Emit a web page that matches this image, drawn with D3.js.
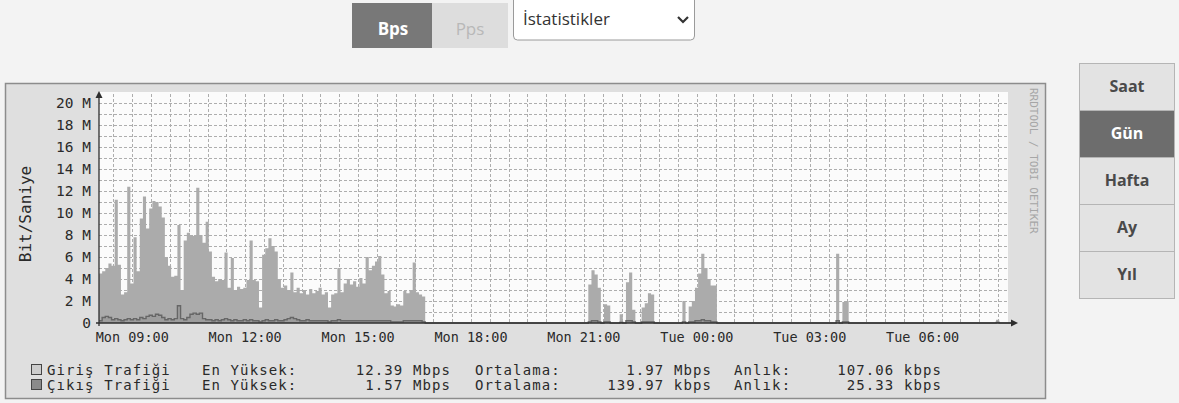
<!DOCTYPE html>
<html><head><meta charset="utf-8">
<script src="https://cdn.jsdelivr.net/npm/d3@7"></script>
<style>body{margin:0;background:#f3f3f3;} svg{display:block}</style>
</head><body>
<svg id="c" width="1179" height="403"></svg>
<script>
// ---------- data ----------
const startTime = new Date(2024, 0, 1, 8, 7);   // Mon 08:07
const endTime   = new Date(2024, 0, 2, 8, 16);  // Tue 08:16
const slotMinutes = 5;
// Giriş (in) traffic, Mbps, one value per 5-minute slot (rows = 1 hour)
const inTraffic = [
 4.5,4.7,5.0,5.4,5.2,11.2,5.3,2.6,2.8,12.39,3.6,7.8,
 4.7,9.5,11.5,8.6,10.4,11.1,11.0,10.6,9.6,6.0,5.2,4.2,
 4.3,8.9,3.0,7.5,8.2,8.0,7.9,12.3,8.0,7.3,9.2,6.5,
 4.2,3.8,4.0,3.9,6.4,3.2,5.9,3.0,3.3,3.1,3.2,3.9,
 7.5,3.9,3.8,1.4,6.2,6.8,7.7,7.0,6.5,4.0,3.2,3.4,
 3.0,4.6,2.8,3.2,2.7,3.0,2.6,3.1,2.7,2.9,3.2,2.6,
 2.8,1.4,2.6,2.7,5.0,2.8,3.6,4.0,3.5,3.8,3.3,4.1,
 3.6,6.0,4.8,5.2,5.6,6.1,4.4,2.7,2.9,1.6,1.5,1.7,
 1.6,2.9,2.7,3.0,5.5,2.8,2.6,2.4,0,0,0,0,
 0,0,0,0,0,0,0,0,0,0,0,0,
 0,0,0,0,0,0,0,0,0,0,0,0,
 0,0,0,0,0,0,0,0,0,0,0,0,
 0,0,0,0,0,0,0,0,0,0,0,0,
 3.5,4.8,4.4,3.2,0,1.7,1.6,0,0,0,0.8,0,
 3.7,4.6,1.2,0,0,1.4,1.8,2.7,2.6,0,0,0,
 0,0,0,0,0,0,2.0,0,1.5,2.0,3.2,4.5,
 6.3,5.0,4.0,3.4,3.4,0,0,0,0,0,0,0,
 0,0,0,0,0,0,0,0,0,0,0,0,
 0,0,0,0,0,0,0,0,0,0,0,0,
 0,0,0,0,0,0,0,6.3,0,1.9,2.0,0,
 0,0,0,0,0,0,0,0,0,0,0,0,
 0,0,0,0,0,0,0,0,0,0,0,0,
 0,0,0,0,0,0,0,0,0,0,0,0,
 0,0,0,0,0,0,0,0,0,0,0.3,0,
 0,0,0
];
// Çıkış (out) traffic, Mbps
const outTraffic = [
 0.2,0.5,0.6,0.5,0.3,0.4,0.3,0.2,0.3,0.4,0.3,0.4,
 0.3,0.5,0.4,0.6,0.7,0.6,0.8,0.7,0.5,0.3,0.4,0.3,
 0.4,1.57,0.4,0.3,0.5,0.8,0.9,0.8,0.9,0.4,0.3,0.3,
 0.2,0.3,0.2,0.3,0.4,0.3,0.2,0.3,0.2,0.2,0.3,0.2,
 0.3,0.2,0.2,0.1,0.2,0.3,0.2,0.2,0.3,0.2,0.2,0.3,
 0.4,0.5,0.4,0.3,0.2,0.2,0.3,0.2,0.2,0.2,0.2,0.2,
 0.2,0.1,0.2,0.2,0.3,0.2,0.2,0.2,0.2,0.2,0.2,0.2,
 0.2,0.2,0.2,0.2,0.2,0.2,0.2,0.2,0.2,0.1,0.1,0.1,
 0.1,0.2,0.2,0.2,0.2,0.2,0.2,0.1,0,0,0,0,
 0,0,0,0,0,0,0,0,0,0,0,0,
 0,0,0,0,0,0,0,0,0,0,0,0,
 0,0,0,0,0,0,0,0,0,0,0,0,
 0,0,0,0,0,0,0,0,0,0,0,0,
 0.1,0.2,0.2,0.1,0,0.1,0.1,0,0,0,0.05,0,
 0.2,0.2,0.1,0,0,0.1,0.1,0.1,0.1,0,0,0,
 0,0,0,0,0,0,0.1,0,0.1,0.1,0.2,0.2,
 0.3,0.2,0.2,0.1,0.1,0,0,0,0,0,0,0,
 0,0,0,0,0,0,0,0,0,0,0,0,
 0,0,0,0,0,0,0,0,0,0,0,0,
 0,0,0,0,0,0,0,0.2,0,0.1,0.1,0,
 0,0,0,0,0,0,0,0,0,0,0,0,
 0,0,0,0,0,0,0,0,0,0,0,0,
 0,0,0,0,0,0,0,0,0,0,0,0,
 0,0,0,0,0,0,0,0,0,0,0.05,0,
 0,0,0
];
const yTicks = [0, 2, 4, 6, 8, 10, 12, 14, 16, 18, 20];
const yMax = 20;
const seriesNames = ["Giriş Trafiği", "Çıkış Trafiği"];
const maxValues   = ["12.39 Mbps", "1.57 Mbps"];
const avgValues   = ["1.97 Mbps", "139.97 kbps"];
const lastValues  = ["107.06 kbps", "25.33 kbps"];
const unitButtons = ["Bps", "Pps"];
const selectLabel = "İstatistikler";
const rangeButtons = ["Saat", "Gün", "Hafta", "Ay", "Yıl"];
const activeRange = "Gün";

// ---------- drawing ----------
const svg = d3.select("#c");
const mono = "'DejaVu Sans Mono', monospace";
const sans = "'Open Sans', 'Noto Sans', sans-serif";

// top controls
const ub = svg.append("g");
ub.append("rect").attr("x", 352).attr("y", 3).attr("width", 80).attr("height", 45).attr("fill", "#787878");
ub.append("rect").attr("x", 432).attr("y", 3).attr("width", 76).attr("height", 45).attr("fill", "#dddddd");
ub.append("text").attr("x", 393).attr("y", 35).attr("text-anchor", "middle").attr("font-family", sans)
  .attr("font-weight", 700).attr("font-size", 17).attr("fill", "#ffffff").text(unitButtons[0]);
ub.append("text").attr("x", 470).attr("y", 35).attr("text-anchor", "middle").attr("font-family", sans)
  .attr("font-size", 17).attr("fill", "#b8b8b8").text(unitButtons[1]);
ub.append("rect").attr("x", 513.5).attr("y", -4).attr("width", 181).attr("height", 44).attr("rx", 4)
  .attr("fill", "#ffffff").attr("stroke", "#9a9a9a");
ub.append("text").attr("x", 523).attr("y", 25).attr("font-family", sans).attr("font-size", 17)
  .attr("fill", "#333").text(selectLabel);
ub.append("path").attr("d", "M678,17 L683,22 L688,17").attr("fill", "none").attr("stroke", "#333").attr("stroke-width", 2.2);

// frame
svg.append("rect").attr("x", 5.5).attr("y", 83.5).attr("width", 1040).attr("height", 315)
  .attr("fill", "#dfdfdf").attr("stroke", "#8c8c8c").attr("stroke-width", 1.5);

const x = d3.scaleTime().domain([startTime, endTime]).range([99, 1008]);
const y = d3.scaleLinear().domain([0, yMax]).range([323, 103]);

// plot canvas
svg.append("rect").attr("x", 99).attr("y", 92).attr("width", 909).attr("height", 231).attr("fill", "#fbfbfb");

// grid
const grid = svg.append("g").attr("stroke", "#adadad").attr("stroke-width", 1).attr("stroke-dasharray", "3,2");
d3.range(1, yMax + 1).forEach(v => {
  grid.append("line").attr("x1", 99).attr("x2", 1008).attr("y1", Math.round(y(v)) + 0.5).attr("y2", Math.round(y(v)) + 0.5);
});
d3.timeMinute.every(30).range(startTime, endTime).forEach(t => {
  grid.append("line").attr("x1", Math.round(x(t)) + 0.5).attr("x2", Math.round(x(t)) + 0.5).attr("y1", 94).attr("y2", 323);
});

// series
const slotTime = i => new Date(startTime.getTime() + i * slotMinutes * 60000);
const pts = arr => arr.map((v, i) => [slotTime(i), v]).concat([[slotTime(arr.length), 0]]);
const area = d3.area().curve(d3.curveStepAfter).x(d => x(d[0])).y0(y(0)).y1(d => y(d[1]));
const line = d3.line().curve(d3.curveStepAfter).x(d => x(d[0])).y(d => y(d[1]));
svg.append("path").attr("d", area(pts(inTraffic))).attr("fill", "#ababab");
svg.append("path").attr("d", area(pts(outTraffic))).attr("fill", "#9d9d9d");
svg.append("path").attr("d", line(pts(outTraffic))).attr("fill", "none").attr("stroke", "#666").attr("stroke-width", 1.4);

// axes
const ax = svg.append("g").attr("stroke", "#2e2e2e").attr("stroke-width", 1.3);
ax.append("line").attr("x1", 96).attr("x2", 1012).attr("y1", y(0)).attr("y2", y(0));
ax.append("line").attr("x1", 99).attr("x2", 99).attr("y1", y(0) + 3).attr("y2", 96);
svg.append("path").attr("d", `M1018,${y(0)} l-7,-3.5 l0,7 z`).attr("fill", "#2e2e2e");
svg.append("path").attr("d", `M99,91 l-3.5,7 l7,0 z`).attr("fill", "#2e2e2e");

// y tick labels
svg.append("g").selectAll("text").data(yTicks).join("text")
  .attr("x", 91).attr("y", d => y(d)).attr("dy", "0.35em").attr("text-anchor", "end")
  .attr("font-family", mono).attr("font-size", 14.5).attr("fill", "#2a2a2a")
  .text(d => d === 0 ? "0" : d + " M");

// x tick labels
const fmt = d3.timeFormat("%a %H:%M");
svg.append("g").selectAll("text").data(d3.timeHour.every(3).range(startTime, endTime)).join("text")
  .attr("x", d => x(d)).attr("y", 337).attr("dy", "0.35em").attr("text-anchor", "middle")
  .attr("font-family", mono).attr("font-size", 13.5).attr("fill", "#2a2a2a")
  .text(fmt);

// y axis title
svg.append("text").attr("transform", "translate(25,214) rotate(-90)").attr("dy", "0.35em").attr("text-anchor", "middle")
  .attr("font-family", mono).attr("font-size", 16).attr("fill", "#2a2a2a").text("Bit/Saniye");

// watermark
svg.append("text").attr("transform", "translate(1030,88) rotate(90)")
  .attr("font-family", mono).attr("font-size", 11).attr("fill", "#a6a6a6").text("RRDTOOL / TOBI OETIKER");

// legend
const swatch = ["#cdcdcd", "#8a8a8a"];
const rowY = [370, 385];
const lg = svg.append("g").attr("font-family", mono).attr("font-size", 14).attr("letter-spacing", 1.1).attr("fill", "#2a2a2a");
seriesNames.forEach((n, i) => {
  const yy = rowY[i];
  lg.append("rect").attr("x", 31.5).attr("y", yy - 5.5).attr("width", 10).attr("height", 10)
    .attr("fill", swatch[i]).attr("stroke", "#444");
  lg.append("text").attr("x", 47).attr("y", yy).attr("dy", "0.35em").text(n);
  lg.append("text").attr("x", 202).attr("y", yy).attr("dy", "0.35em").text("En Yüksek:");
  lg.append("text").attr("x", 451).attr("y", yy).attr("dy", "0.35em").attr("text-anchor", "end").text(maxValues[i]);
  lg.append("text").attr("x", 475).attr("y", yy).attr("dy", "0.35em").text("Ortalama:");
  lg.append("text").attr("x", 712).attr("y", yy).attr("dy", "0.35em").attr("text-anchor", "end").text(avgValues[i]);
  lg.append("text").attr("x", 734).attr("y", yy).attr("dy", "0.35em").text("Anlık:");
  lg.append("text").attr("x", 942).attr("y", yy).attr("dy", "0.35em").attr("text-anchor", "end").text(lastValues[i]);
});

// range buttons
const rb = svg.append("g");
const bh = 47;
rangeButtons.forEach((b, i) => {
  const top = 63 + i * bh;
  const on = b === activeRange;
  rb.append("rect").attr("x", 1079.5).attr("y", top + 0.5).attr("width", 95).attr("height", bh)
    .attr("fill", on ? "#6d6d6d" : "#e3e3e3").attr("stroke", "#b5b5b5");
  rb.append("text").attr("x", 1127).attr("y", top + bh / 2).attr("dy", "0.35em").attr("text-anchor", "middle")
    .attr("font-family", sans).attr("font-weight", 700).attr("font-size", 16)
    .attr("fill", on ? "#ffffff" : "#4a4a4a").text(b);
});
</script>
</body></html>
